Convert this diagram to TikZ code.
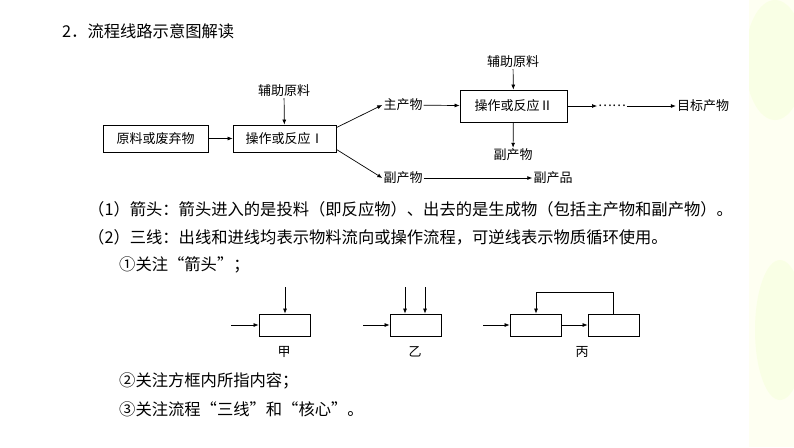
\documentclass[tikz,border=0pt]{standalone}
\usepackage{fontspec}
\setmainfont{Noto Sans CJK SC}
\usetikzlibrary{arrows.meta}
\begin{document}
\begin{tikzpicture}[x=1pt,y=-1pt,
  box/.style={draw,line width=0.8pt,minimum width=#1,minimum height=27pt,inner sep=0pt,font=\fontsize{13}{14}\selectfont},
  lbl/.style={inner sep=1pt,font=\fontsize{13}{14}\selectfont},
  txt/.style={anchor=west,inner sep=0pt,font=\fontsize{16.3}{17}\selectfont},
  arr/.style={-{Latex[length=5pt,width=4pt]},line width=0.7pt},
  sbox/.style={draw,line width=0.8pt,minimum width=51pt,minimum height=22pt,inner sep=0pt}]
\useasboundingbox (0,0) rectangle (794,447);
\fill[green!4!yellow!5!white] (0,0) rectangle (794,447);
\fill[green!25!yellow!15!white,opacity=0.5] (775,60) ellipse (30 and 60);
\fill[green!25!yellow!15!white,opacity=0.5] (780,330) ellipse (25 and 70);
\fill[white] (0,0) rectangle (749,447);
\node[txt] (t0) at (62,31) {2．流程线路示意图解读};
\node[box=105pt] (b1) at (155.5,138.5) {原料或废弃物};
\node[box=103pt] (b2) at (284.5,138.5) {操作或反应Ⅰ};
\node[lbl] (a1) at (284,91) {辅助原料};
\node[lbl] (m1) at (403,105) {主产物};
\node[lbl] (s1) at (403,178) {副产物};
\node[lbl] (p1) at (553,178) {副产品};
\node[box=107pt,minimum height=32pt] (b3) at (513.5,106) {操作或反应Ⅱ};
\node[lbl] (a2) at (513,62) {辅助原料};
\node[lbl] (s2) at (513,155) {副产物};
\node[lbl] (dd) at (612,106) {……};
\node[lbl] (tg) at (703,106) {目标产物};
\draw[arr] (b1) -- (b2);
\draw[arr] (a1) -- (b2);
\draw[arr] (b2.north east) ++(0,3) -- (m1.west);
\draw[arr] (b2.south east) ++(0,-3) -- (s1.west);
\draw[arr] (s1) -- (p1);
\draw[arr] (m1) -- (b3);
\draw[arr] (a2) -- (b3);
\draw[arr] (b3) -- (s2);
\draw[arr] (b3) -- (dd);
\draw[arr] (dd) -- (tg);
\node[txt] (l1) at (88,209) {（1）箭头：箭头进入的是投料（即反应物）、出去的是生成物（包括主产物和副产物）。};
\node[txt] (l2) at (88,237) {（2）三线：出线和进线均表示物料流向或操作流程，可逆线表示物质循环使用。};
\node[txt] (l3) at (119,265) {①关注“箭头”；};
\node[txt] (l4) at (119,381) {②关注方框内所指内容；};
\node[txt] (l5) at (119,409) {③关注流程“三线”和“核心”。};
% 甲
\node[sbox] (j) at (284.5,325) {};
\coordinate (j0) at (231,325); \coordinate (j1) at (285,287);
\draw[arr] (j0) -- (j);
\draw[arr] (j1) -- (j.north -| j1);
\node[lbl] (jl) at (284,352) {甲};
% 乙
\node[sbox] (y) at (415.5,325) {};
\coordinate (y0) at (363,325); \coordinate (y1) at (405,287); \coordinate (y2) at (425,287);
\draw[arr] (y0) -- (y);
\draw[arr] (y1) -- (y.north -| y1);
\draw[arr] (y2) -- (y.north -| y2);
\node[lbl] (yl) at (415,352) {乙};
% 丙
\node[sbox] (c1) at (535.5,325) {};
\node[sbox] (c2) at (613.5,325) {};
\coordinate (c0) at (483,325);
\draw[arr] (c0) -- (c1);
\draw[arr] (c1) -- (c2);
\draw[arr] (c2.north) |- (536,292) -- (c1.north -| 536,0);
\node[lbl] (cl) at (582,352) {丙};
\end{tikzpicture}
\end{document}
